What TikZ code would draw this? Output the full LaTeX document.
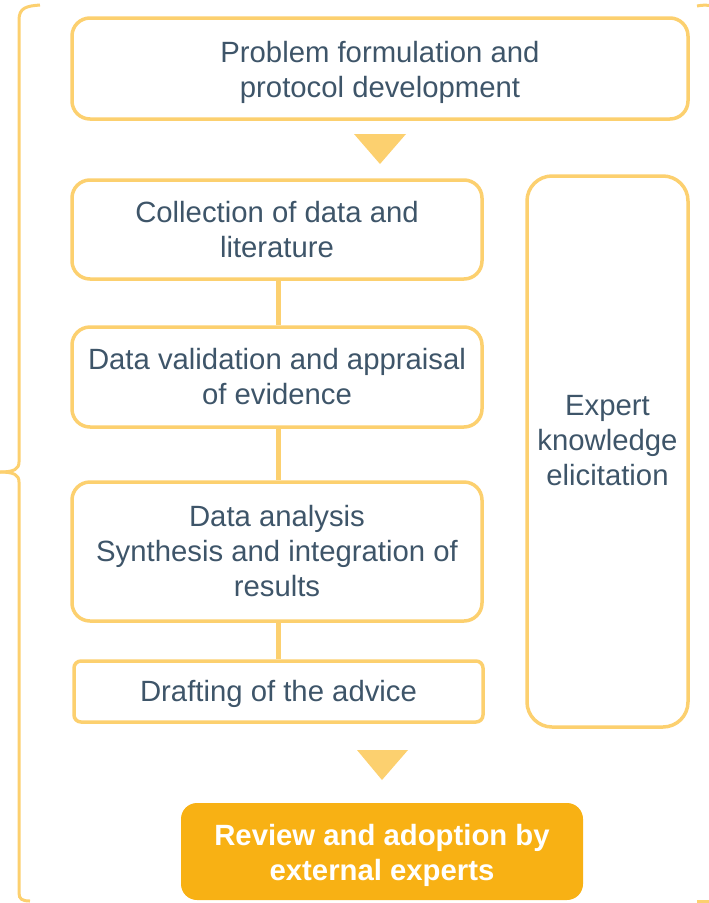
\documentclass[tikz,border=0pt]{standalone}
\usepackage{fontspec}
\setmainfont{Liberation Sans}
\definecolor{bord}{HTML}{FCD06F}
\definecolor{txt}{HTML}{3E5569}
\definecolor{orangefill}{HTML}{F8B114}
\begin{document}
\begin{tikzpicture}[x=1pt,y=-1pt,
  box/.style={draw=bord, line width=3.5pt, rounded corners=18pt, inner sep=0pt},
  boxtxt/.style={text=txt, font=\fontsize{29.3}{35}\selectfont, align=center, inner sep=0pt},
  revtxt/.style={text=white, font=\bfseries\fontsize{29.3}{35}\selectfont, align=center, inner sep=0pt},
  conn/.style={draw=bord, line width=5pt},
  arrowtri/.style={fill=bord},
  bracket/.style={draw=bord, line width=3pt}
]
\useasboundingbox (0,0) rectangle (709,903);
\node[box, minimum width=616pt, minimum height=101pt,
  label={[boxtxt, yshift=-3.5pt]center:{Problem formulation and\\protocol development}}] (p) at (380,68.5) {};
\node[box, minimum width=410pt, minimum height=99pt,
  label={[boxtxt]center:{Collection of data and\\literature}}] (c) at (277,229.5) {};
\node[box, minimum width=410pt, minimum height=100pt,
  label={[boxtxt]center:{Data validation and appraisal\\of evidence}}] (v) at (277,377) {};
\node[box, minimum width=410pt, minimum height=139pt,
  label={[boxtxt]center:{Data analysis\\Synthesis and integration of\\results}}] (a) at (277,551.5) {};
\node[box, rounded corners=7pt, minimum width=409pt, minimum height=61pt,
  label={[boxtxt, yshift=-2pt]center:{Drafting of the advice}}] (d) at (278.5,691.5) {};
\node[box, rounded corners=25pt, minimum width=161pt, minimum height=551pt,
  label={[boxtxt, yshift=11pt]center:{Expert\\knowledge\\elicitation}}] (e) at (607.5,451.5) {};
\node[box, draw=none, fill=orangefill, rounded corners=16pt, minimum width=402pt, minimum height=97pt,
  label={[revtxt, yshift=-4pt]center:{Review and adoption by\\external experts}}] (r) at (382,851.5) {};
\draw[conn] (c.south -| d.north) -- (v.north -| d.north);
\draw[conn] (v.south -| d.north) -- (a.north -| d.north);
\draw[conn] (a.south -| d.north) -- (d.north);
\fill[arrowtri] (354,134) -- (406,134) -- (380,164) -- cycle;
\fill[arrowtri] (357,750) -- (408,750) -- (382,780) -- cycle;
\draw[bracket] (40,5) .. controls (26,6) and (19,8) .. (19,20) -- (19,462)
  .. controls (19,469) and (14,472) .. (0,472);
\draw[bracket] (0,472) .. controls (14,472) and (19,475) .. (19,482) -- (19,893)
  .. controls (19,899) and (22,901) .. (30,901);
\draw[bracket] (697,6) .. controls (702,5) and (706,5) .. (709,5.5);
\draw[bracket] (697,901) -- (709,901);
\end{tikzpicture}
\end{document}
